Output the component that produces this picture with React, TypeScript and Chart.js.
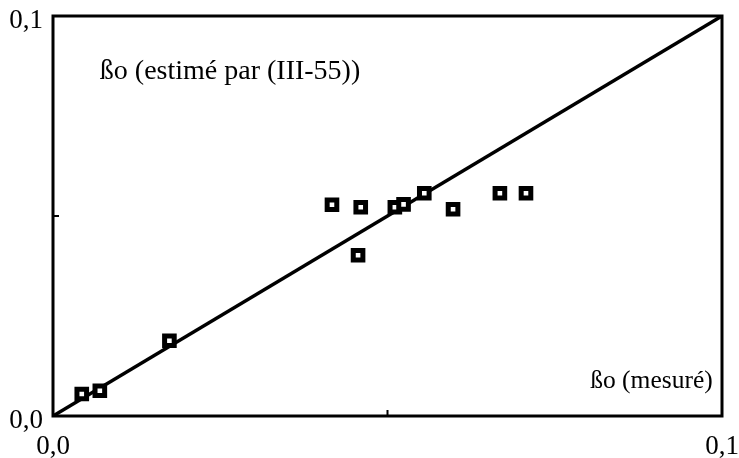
import React, { useEffect, useRef } from "react";
import { Chart, registerables } from "chart.js";

Chart.register(...registerables);

const measuredX = [0.0043, 0.007, 0.0174, 0.0417, 0.046, 0.0456, 0.0511, 0.0524, 0.0555, 0.0598, 0.0668, 0.0707];
const estimatedY = [0.0055, 0.0063, 0.0188, 0.0528, 0.0522, 0.0402, 0.0522, 0.0529, 0.0557, 0.0517, 0.0557, 0.0557];
const lineX = [0, 0.1];
const lineY = [0, 0.1];
const tickValues = [0, 0.05, 0.1];
const tickLabels = ["0,0", "", "0,1"];
const yAxisTitle = "ßo (estimé par (III-55))";
const xAxisTitle = "ßo (mesuré)";

const FONT = "'Liberation Serif', 'DejaVu Serif', serif";

const labelFor = (v: number) => {
  const i = tickValues.findIndex((t) => Math.abs(t - v) < 1e-9);
  return i >= 0 ? tickLabels[i] : "";
};

const framePlugin = {
  id: "frame",
  afterDatasetsDraw(chart: any) {
    const { ctx, chartArea: a, scales } = chart;
    ctx.save();
    ctx.strokeStyle = "#000";
    ctx.lineWidth = 3;
    ctx.strokeRect(a.left, a.top, a.right - a.left, a.bottom - a.top);
    ctx.lineWidth = 2;
    const mx = scales.x.getPixelForValue(tickValues[1]);
    const my = scales.y.getPixelForValue(tickValues[1]);
    ctx.beginPath();
    ctx.moveTo(mx, a.bottom);
    ctx.lineTo(mx, a.bottom - 6);
    ctx.moveTo(a.left, my);
    ctx.lineTo(a.left + 6, my);
    ctx.stroke();
    ctx.fillStyle = "#000";
    ctx.textBaseline = "middle";
    ctx.textAlign = "left";
    ctx.font = `28px ${FONT}`;
    ctx.fillText(yAxisTitle, scales.x.getPixelForValue(0.007), scales.y.getPixelForValue(0.086));
    ctx.font = `25.5px ${FONT}`;
    ctx.fillText(xAxisTitle, scales.x.getPixelForValue(0.0803), scales.y.getPixelForValue(0.0088));
    ctx.restore();
  },
};

export default function App() {
  const ref = useRef<HTMLCanvasElement>(null);
  useEffect(() => {
    document.body.style.margin = "0";
    const chart = new Chart(ref.current!, {
      type: "scatter",
      data: {
        datasets: [
          {
            type: "line",
            data: lineX.map((x, i) => ({ x, y: lineY[i] })),
            borderColor: "#000",
            borderWidth: 3.5,
            pointRadius: 0,
            order: 2,
          } as any,
          {
            data: measuredX.map((x, i) => ({ x, y: estimatedY[i] })),
            pointStyle: "rect",
            pointRadius: 6.8,
            pointBorderWidth: 5,
            pointBackgroundColor: "#fff",
            pointBorderColor: "#000",
            order: 1,
          },
        ],
      },
      options: {
        animation: false,
        responsive: false,
        layout: { padding: { top: 16, right: 17, left: 0, bottom: 0 } },
        plugins: { legend: { display: false }, tooltip: { enabled: false } },
        scales: {
          x: {
            type: "linear",
            min: 0,
            max: 0.1,
            afterBuildTicks: (s: any) => {
              s.ticks = tickValues.map((value) => ({ value }));
            },
            afterFit: (s: any) => {
              s.height = 42;
              s.paddingLeft = 0;
              s.paddingRight = 0;
            },
            ticks: {
              callback: (v: any) => labelFor(Number(v)),
              font: { family: FONT, size: 27 },
              color: "#000",
              padding: 15,
              maxRotation: 0,
              autoSkip: false,
            },
            grid: { display: false, drawTicks: false },
            border: { display: false },
          },
          y: {
            type: "linear",
            min: 0,
            max: 0.1,
            afterBuildTicks: (s: any) => {
              s.ticks = tickValues.map((value) => ({ value }));
            },
            afterFit: (s: any) => {
              s.width = 53;
              s.paddingTop = 0;
              s.paddingBottom = 0;
            },
            ticks: {
              callback: (v: any) => labelFor(Number(v)),
              font: { family: FONT, size: 27 },
              color: "#000",
              padding: 10,
              labelOffset: 5,
              autoSkip: false,
            },
            grid: { display: false, drawTicks: false },
            border: { display: false },
          },
        },
      },
      plugins: [framePlugin],
    });
    return () => chart.destroy();
  }, []);
  return <canvas ref={ref} width={739} height={458} style={{ display: "block" }} />;
}
